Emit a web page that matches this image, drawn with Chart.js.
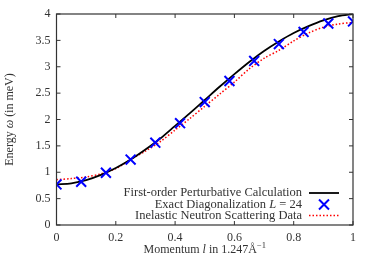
<!DOCTYPE html>
<html><head><meta charset="utf-8">
<script src="https://cdn.jsdelivr.net/npm/chart.js@4/dist/chart.umd.min.js"></script>
<style>html,body{margin:0;padding:0;background:#fff;}#w{width:374px;height:262px;}</style>
</head><body><div id="w"><canvas id="c" width="374" height="262"></canvas></div>
<script>
// Data
const momentum = [0,0.05,0.1,0.15,0.2,0.25,0.3,0.35,0.4,0.45,0.5,0.55,0.6,0.65,0.7,0.75,0.8,0.85,0.9,0.95,1.0];
const perturbative = [0.77,0.79,0.85,0.95,1.08,1.24,1.43,1.64,1.88,2.12,2.37,2.62,2.86,3.09,3.30,3.48,3.64,3.77,3.88,3.96,4.00];
const neutron = [0.86,0.88,0.91,0.97,1.07,1.24,1.40,1.58,1.80,2.02,2.25,2.48,2.71,2.96,3.16,3.31,3.49,3.64,3.75,3.81,3.84];
const exactMomentum = [0,0.0833,0.1667,0.25,0.3333,0.4167,0.5,0.5833,0.6667,0.75,0.8333,0.9167,1.0];
const exactEnergy = [0.77,0.82,0.99,1.24,1.56,1.93,2.33,2.73,3.11,3.43,3.66,3.82,3.86];
const xTicks = [0,0.2,0.4,0.6,0.8,1];
const yTicks = [0,0.5,1,1.5,2,2.5,3,3.5,4];
const seriesLabels = ['First-order Perturbative Calculation','Exact Diagonalization L = 24','Inelastic Neutron Scattering Data'];

const FONT = '"Liberation Serif", "DejaVu Serif", serif';
const TXT = '#333';
const pts = (xs, ys) => xs.map((x, i) => ({x: x, y: ys[i]}));

const deco = {
  id: 'deco',
  afterDraw(chart) {
    const ctx = chart.ctx, a = chart.chartArea, xs = chart.scales.x, ys = chart.scales.y;
    ctx.save();
    ctx.strokeStyle = '#333'; ctx.lineWidth = 1.2;
    ctx.strokeRect(a.left, a.top, a.right - a.left, a.bottom - a.top);
    ctx.lineWidth = 1;
    ctx.beginPath();
    xTicks.forEach(v => { const p = xs.getPixelForValue(v);
      ctx.moveTo(p, a.bottom); ctx.lineTo(p, a.bottom - 4);
      ctx.moveTo(p, a.top); ctx.lineTo(p, a.top + 4); });
    yTicks.forEach(v => { const p = ys.getPixelForValue(v);
      ctx.moveTo(a.left, p); ctx.lineTo(a.left + 4, p);
      ctx.moveTo(a.right, p); ctx.lineTo(a.right - 4, p); });
    ctx.stroke();

    function runs(parts, x, y, align) {
      const widths = parts.map(p => { ctx.font = p[1]; return ctx.measureText(p[0]).width; });
      const total = widths.reduce((s, w) => s + w, 0);
      let cx = align === 'right' ? x - total : (align === 'center' ? x - total / 2 : x);
      parts.forEach((p, i) => { ctx.font = p[1]; ctx.fillText(p[0], cx, y + (p[2] || 0)); cx += widths[i]; });
    }
    const R = '12px ' + FONT, I = 'italic 12px ' + FONT, S = '8.5px ' + FONT;
    const LR = '12.5px ' + FONT, LI = 'italic 12.5px ' + FONT;
    ctx.fillStyle = TXT; ctx.textBaseline = 'middle'; ctx.textAlign = 'left';

    const lx = 302, sx0 = 309, sx1 = 339, rows = [193, 204.5, 215.5];
    runs([[seriesLabels[0], LR]], lx, rows[0], 'right');
    runs([['Exact Diagonalization ', LR], ['L', LI], [' = 24', LR]], lx, rows[1], 'right');
    runs([[seriesLabels[2], LR]], lx, rows[2], 'right');
    ctx.strokeStyle = '#000'; ctx.lineWidth = 1.8; ctx.setLineDash([]);
    ctx.beginPath(); ctx.moveTo(sx0, rows[0]); ctx.lineTo(sx1, rows[0]); ctx.stroke();
    ctx.strokeStyle = '#0000ff'; ctx.lineWidth = 2;
    const cx = (sx0 + sx1) / 2, r = 5;
    ctx.beginPath(); ctx.moveTo(cx - r, rows[1] - r); ctx.lineTo(cx + r, rows[1] + r);
    ctx.moveTo(cx + r, rows[1] - r); ctx.lineTo(cx - r, rows[1] + r); ctx.stroke();
    ctx.strokeStyle = '#ff0000'; ctx.lineWidth = 1.5; ctx.setLineDash([1.5, 2]);
    ctx.beginPath(); ctx.moveTo(sx0, rows[2]); ctx.lineTo(sx1, rows[2]); ctx.stroke();
    ctx.setLineDash([]);

    runs([['Momentum ', R], ['l', I], [' in 1.247Å', R], ['−1', S, -4]], (a.left + a.right) / 2, 250, 'center');
    ctx.save();
    ctx.translate(10, (a.top + a.bottom) / 2);
    ctx.rotate(-Math.PI / 2);
    runs([['Energy ', R], ['ω', I], [' (in meV)', R]], 0, 0, 'center');
    ctx.restore();
    ctx.restore();
  }
};

new Chart(document.getElementById('c'), {
  type: 'scatter',
  data: {
    datasets: [
      { label: seriesLabels[2], data: pts(momentum, neutron), showLine: true, borderColor: '#ff0000',
        borderWidth: 1.5, borderDash: [1.5, 2], pointRadius: 0, tension: 0.3, order: 3 },
      { label: seriesLabels[0], data: pts(momentum, perturbative), showLine: true, borderColor: '#000',
        borderWidth: 1.8, pointRadius: 0, tension: 0.3, order: 2 },
      { label: seriesLabels[1], data: pts(exactMomentum, exactEnergy), showLine: false, pointStyle: 'crossRot',
        pointRadius: 7, pointBorderWidth: 2, borderColor: '#0000ff', backgroundColor: '#0000ff', order: 1 }
    ]
  },
  options: {
    responsive: false, animation: false, devicePixelRatio: 1,
    layout: { padding: { top: 14, right: 21, left: 0, bottom: 0 } },
    plugins: { legend: { display: false }, tooltip: { enabled: false } },
    scales: {
      x: { type: 'linear', min: 0, max: 1,
        afterBuildTicks: s => { s.ticks = xTicks.map(v => ({value: v})); },
        afterFit: s => { s.height = 37; },
        grid: { display: false, drawTicks: false }, border: { display: false },
        ticks: { padding: 6, color: TXT, font: { family: FONT, size: 12 }, maxRotation: 0,
          callback: v => String(v) } },
      y: { type: 'linear', min: 0, max: 4,
        afterBuildTicks: s => { s.ticks = yTicks.map(v => ({value: v})); },
        afterFit: s => { s.width = 56.5; },
        grid: { display: false, drawTicks: false }, border: { display: false },
        ticks: { padding: 6, color: TXT, font: { family: FONT, size: 12 }, callback: v => String(v) } }
    }
  },
  plugins: [deco]
});
</script></body></html>
